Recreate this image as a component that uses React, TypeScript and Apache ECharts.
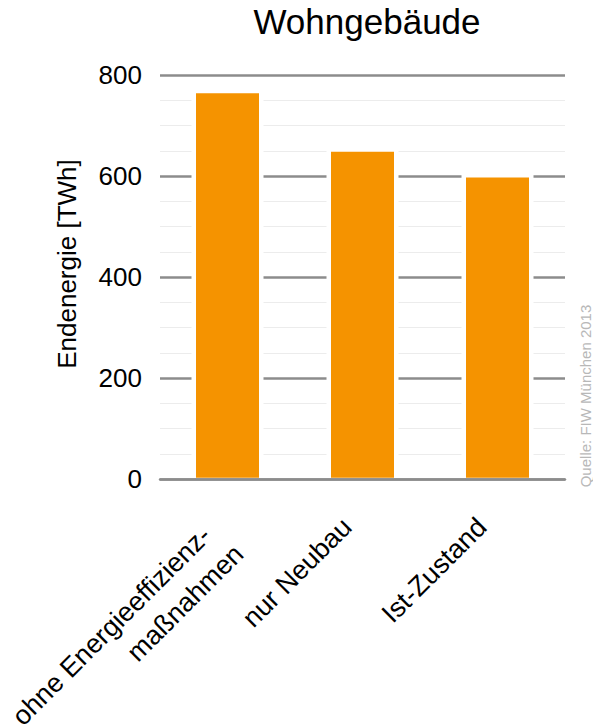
import React, { useEffect, useRef } from "react";
import * as echarts from "echarts";

const categories = ["ohne Energieeffizienz-\nmaßnahmen", "nur Neubau", "Ist-Zustand"];
const values = [764, 648, 597];
const yTicks = [0, 200, 400, 600, 800];
const titleText = "Wohngebäude";
const yAxisName = "Endenergie [TWh]";
const sourceText = "Quelle: FIW München 2013";

const FONT = "'Liberation Sans', Arial, Helvetica, sans-serif";
const ORANGE = "#F59300";
const MAJOR = "#8c8c8c";

export default function App() {
  const ref = useRef<HTMLDivElement>(null);
  useEffect(() => {
    if (!ref.current) return;
    const chart = echarts.init(ref.current, undefined, { renderer: "svg", width: 593, height: 724 });
    const data = values.map((v, i) => [i, v]);
    const labelBase = { fontFamily: FONT, fontSize: 27, color: "#000", lineHeight: 36 };
    const option: any = {
      animation: false,
      backgroundColor: "#ffffff",
      title: {
        text: titleText,
        left: 362,
        top: -1,
        textAlign: "center",
        textStyle: { fontFamily: FONT, fontSize: 35, fontWeight: "normal", color: "#000" },
      },
      grid: { left: 160, width: 405, top: 75, height: 404, containLabel: false, outerBoundsMode: "none" },
      xAxis: {
        type: "category",
        data: categories,
        boundaryGap: true,
        axisLine: { show: true, lineStyle: { color: MAJOR, width: 2.5 } },
        axisTick: { show: false },
        splitLine: { show: false },
        axisLabel: {
          rotate: 45,
          margin: 28,
          interval: 0,
          padding: [0, 22, 0, 0],
          ...labelBase,
          formatter: (v: string) => {
            const parts = v.split("\n");
            if (parts.length === 1) return `{s|${v}}`;
            return ["{e| }", ...parts.map((p, k) => (k === 0 ? `{l1|${p}}` : `{l2|${p}}`))].join("\n");
          },
          rich: {
            s: { ...labelBase },
            e: { ...labelBase, lineHeight: 40 },
            l1: { ...labelBase, padding: [0, 10, 0, 0] },
            l2: { ...labelBase },
          },
        },
      },
      yAxis: {
        type: "value",
        min: yTicks[0],
        max: yTicks[yTicks.length - 1],
        interval: 200,
        name: yAxisName,
        nameLocation: "middle",
        nameRotate: 90,
        nameGap: 80,
        nameTextStyle: { fontFamily: FONT, fontSize: 26, color: "#000", padding: [0, 0, 0, 26] },
        axisLine: { show: false },
        axisTick: { show: false },
        axisLabel: { margin: 18, fontFamily: FONT, fontSize: 26, color: "#000" },
        splitLine: { show: true, lineStyle: { color: MAJOR, width: 2.5 } },
        minorTick: { show: false, splitNumber: 4 },
        minorSplitLine: { show: true, lineStyle: { color: "#ececec", width: 1 } },
      },
      series: [
        {
          type: "custom",
          data,
          encode: { x: 0, y: 1 },
          renderItem: (params: any, api: any) => {
            const idx = api.value(0);
            const v = api.value(1);
            const top = api.coord([idx, v]);
            const base = api.coord([idx, 0]);
            const bw = 63;
            const gap = 4.5;
            const bottom = base[1] - 1.25;
            return {
              type: "group",
              children: [
                {
                  type: "rect",
                  shape: { x: top[0] - bw / 2 - gap, y: top[1] - gap, width: bw + 2 * gap, height: bottom - top[1] + gap },
                  style: { fill: "#ffffff" },
                },
                {
                  type: "rect",
                  shape: { x: top[0] - bw / 2, y: top[1], width: bw, height: bottom - top[1] },
                  style: { fill: ORANGE },
                },
              ],
            };
          },
        },
      ],
      graphic: [
        {
          type: "text",
          x: 585,
          y: 396,
          rotation: Math.PI / 2,
          style: {
            text: sourceText,
            fontFamily: FONT,
            fontSize: 15,
            fill: "#b8b8b8",
            textAlign: "center",
            textVerticalAlign: "middle",
          },
        },
      ],
    };
    chart.setOption(option);
    return () => chart.dispose();
  }, []);
  return (
    <div
      ref={ref}
      style={{ position: "fixed", left: 0, top: 0, width: 593, height: 724, background: "#fff" }}
    />
  );
}
